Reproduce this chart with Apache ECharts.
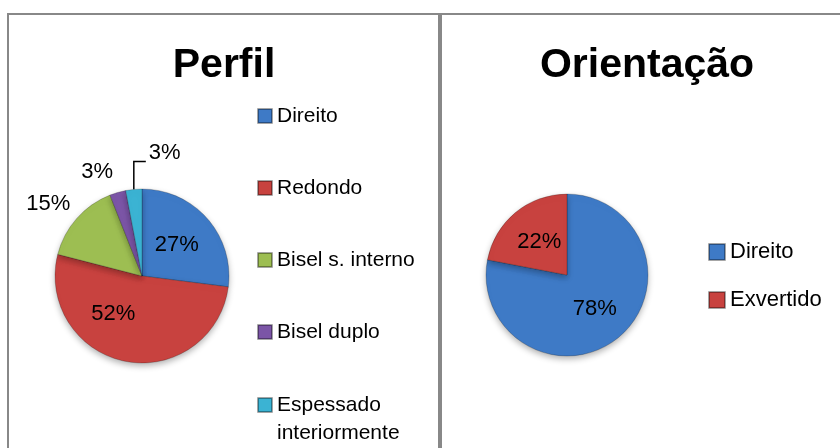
<!DOCTYPE html>
<html>
<head>
<meta charset="utf-8">
<script src="https://cdn.jsdelivr.net/npm/echarts@6/dist/echarts.min.js"></script>
<style>
  html, body { margin: 0; padding: 0; background: #fff; }
  #main { width: 840px; height: 448px; }
</style>
</head>
<body>
<div id="main"></div>
<script>
const perfilCategories = ['Direito', 'Redondo', 'Bisel s. interno', 'Bisel duplo', 'Espessado interiormente'];
const perfilValues = [27, 52, 15, 3, 3];
const perfilColors = ['#3E7AC6', '#C8423F', '#9DBE52', '#7B55A6', '#3BB3D3'];

const orientacaoCategories = ['Direito', 'Exvertido'];
const orientacaoValues = [78, 22];
const orientacaoColors = ['#3E7AC6', '#C8423F'];

const font = '"Liberation Sans", Arial, sans-serif';

const chart = echarts.init(document.getElementById('main'), null, { renderer: 'canvas' });

function pct(p) {
  return Math.round(p.percent) + '%';
}

// small slices get their labels outside, without leader line (except the last one)
const perfilData = perfilCategories.map(function (name, i) {
  const item = { name: name, value: perfilValues[i], itemStyle: { color: perfilColors[i] } };
  if (perfilValues[i] < 20) {
    item.label = { position: 'outside' };
    item.labelLine = { show: i === 4, length: 10, length2: 0 };
  }
  return item;
});

const orientacaoData = orientacaoCategories.map(function (name, i) {
  return { name: name, value: orientacaoValues[i], itemStyle: { color: orientacaoColors[i] } };
});

const sliceStyle = {
  borderColor: 'rgba(0,0,0,0.35)',
  borderWidth: 0.6,
  shadowBlur: 6,
  shadowOffsetY: 3,
  shadowColor: 'rgba(0,0,0,0.3)'
};

const option = {
  animation: false,
  textStyle: { fontFamily: font },
  graphic: [
    { type: 'rect', z: -10, shape: { x: 8, y: 14, width: 431, height: 460 },
      style: { fill: 'none', stroke: '#888', lineWidth: 2 } },
    { type: 'rect', z: -10, shape: { x: 441, y: 14, width: 420, height: 460 },
      style: { fill: 'none', stroke: '#888', lineWidth: 2 } },
    { type: 'text', x: 224, y: 66,
      style: { text: 'Perfil', font: 'bold 41px ' + font, fill: '#000', align: 'center', verticalAlign: 'middle' } },
    { type: 'text', x: 647, y: 66,
      style: { text: 'Orientação', font: 'bold 41px ' + font, fill: '#000', align: 'center', verticalAlign: 'middle' } }
  ],
  legend: [
    {
      orient: 'vertical', left: 252, top: 97,
      itemWidth: 14, itemHeight: 14, itemGap: 44, icon: 'rect',
      data: perfilCategories.slice(0, 4),
      textStyle: { fontSize: 21, lineHeight: 28, color: '#000', fontFamily: font }
    },
    {
      // wrapped entry: a blank first line keeps the icon level with "Espessado"
      orient: 'vertical', left: 252, top: 358,
      itemWidth: 14, itemHeight: 14, icon: 'rect',
      data: perfilCategories.slice(4),
      formatter: function () { return ' \nEspessado\ninteriormente'; },
      textStyle: { fontSize: 21, lineHeight: 28, color: '#000', fontFamily: font }
    },
    {
      orient: 'vertical', left: 703, top: 233,
      itemWidth: 16, itemHeight: 16, itemGap: 20, icon: 'rect',
      data: orientacaoCategories,
      textStyle: { fontSize: 22, lineHeight: 28, color: '#000', fontFamily: font }
    }
  ],
  series: [
    {
      name: 'Perfil',
      type: 'pie',
      center: [142, 276],
      radius: 87,
      startAngle: 90,
      clockwise: true,
      avoidLabelOverlap: false,
      emphasis: { disabled: true },
      itemStyle: sliceStyle,
      label: { show: true, position: 'inside', formatter: pct, fontSize: 22, color: '#000', fontFamily: font },
      labelLine: { lineStyle: { color: '#000', width: 1.5 } },
      labelLayout: function (params) {
        if (params.dataIndex === 4 && params.labelLinePoints) {
          const p0 = params.labelLinePoints[0];
          return {
            x: p0[0] + 15, y: p0[1] - 36, align: 'left', verticalAlign: 'middle',
            labelLinePoints: [p0, [p0[0], p0[1] - 28], [p0[0] + 12, p0[1] - 28]]
          };
        }
        if (params.dataIndex === 1) return { dx: -20, dy: -8 };
        if (params.dataIndex === 2) return { dx: 6, dy: -8 };
        if (params.dataIndex === 3) return { dx: 3, dy: -11 };
      },
      data: perfilData
    },
    {
      name: 'Orientação',
      type: 'pie',
      center: [567, 275],
      radius: 81,
      startAngle: 90,
      clockwise: true,
      emphasis: { disabled: true },
      itemStyle: sliceStyle,
      label: { show: true, position: 'inside', formatter: pct, fontSize: 22, color: '#000', fontFamily: font },
      data: orientacaoData
    }
  ]
};

chart.setOption(option);
</script>
</body>
</html>
